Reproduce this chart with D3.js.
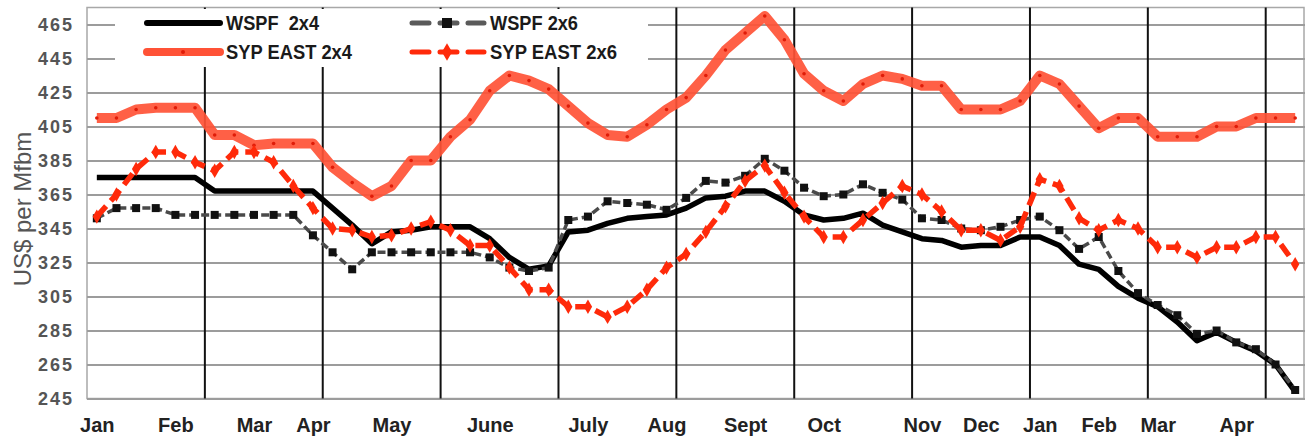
<!DOCTYPE html>
<html>
<head>
<meta charset="utf-8">
<script src="https://cdn.jsdelivr.net/npm/d3@7"></script>
<style>
  body { margin: 0; background: #fff; }
  #dataviz text { font-family: "Liberation Sans", Arial, sans-serif; }
</style>
</head>
<body>
<div id="dataviz"></div>
<script>
"use strict"

// weekly prices, US$ per Mfbm, Jan .. Apr of the following year
const monthLabels = ["Jan", "Feb", "Mar", "Apr", "May", "June", "July", "Aug", "Sept", "Oct", "Nov", "Dec", "Jan", "Feb", "Mar", "Apr"];
const monthWeeks = [0, 4, 8, 11, 15, 20, 25, 29, 33, 37, 42, 45, 48, 51, 54, 58];
const yTicks = [245, 265, 285, 305, 325, 345, 365, 385, 405, 425, 445, 465];

const wspf2x4 = [375, 375, 375, 375, 375, 375, 367, 367, 367, 367, 367, 367,
  357, 347, 336, 343, 344, 346, 346, 346, 339, 328, 321, 323, 343, 344, 348, 351, 352, 353,
  357, 363, 364, 367, 367, 361, 353, 350, 351, 354, 347, 343, 339, 338, 334, 335, 335, 340, 340, 335,
  324, 321, 311, 304, 299, 290, 279, 284, 278, 273, 265, 249];

const wspf2x6 = [351, 357, 357, 357, 353, 353, 353, 353, 353, 353, 353, 341,
  331, 321, 331, 331, 331, 331, 331, 331, 328, 322, 320, 322, 350, 352, 361, 360, 359, 356,
  363, 373, 372, 376, 386, 379, 369, 364, 365, 371, 366, 362, 351, 350, 345, 344, 346, 350, 352, 344,
  333, 340, 320, 307, 300, 294, 283, 285, 278, 274, 265, 250];

const sypEast2x4 = [410, 410, 415, 416, 416, 416, 400, 400, 394, 395, 395, 395,
  381, 372, 364, 370, 385, 385, 399, 409, 426, 435, 432, 427, 417, 407, 400, 399, 406, 415,
  422, 435, 450, 460, 470, 456, 436, 426, 420, 430, 435, 433, 429, 429, 415, 415, 415, 420, 435, 430,
  417, 404, 410, 410, 399, 399, 399, 405, 405, 410, 410, 410];

const sypEast2x6 = [352, 365, 380, 390, 390, 384, 379, 390, 390, 384, 370, 357,
  345, 344, 340, 341, 345, 349, 344, 335, 335, 322, 309, 309, 299, 299, 293, 299, 309, 322,
  330, 343, 358, 373, 382, 366, 352, 340, 340, 350, 360, 370, 365, 355, 344, 344, 338, 346, 374, 370,
  351, 344, 350, 345, 334, 334, 328, 334, 334, 340, 340, 324];

const seriesNames = ["WSPF  2x4", "WSPF 2x6", "SYP EAST 2x4", "SYP EAST 2x6"];

let margin = {top: 7.5, right: 0, bottom: 40.5, left: 87};
let width = 1305 - margin.left - margin.right,
    height = 439 - margin.top - margin.bottom;

let root = d3.select("#dataviz")
  .append("svg")
  .attr("width", 1305)
  .attr("height", 439);

let svg = root.append("g")
  .attr("transform", "translate(" + margin.left + "," + margin.top + ")");

let weeks = wspf2x4.map(function(d, i) { return i; });

let x = d3.scalePoint()
  .domain(weeks)
  .range([0, width])
  .padding(0.5);

let y = d3.scaleLinear()
  .domain([245, 475])
  .range([height, 0]);

// plot frame
svg.append("rect")
  .attr("x", 0).attr("y", 0)
  .attr("width", width - 1).attr("height", height)
  .style("fill", "none")
  .style("stroke", "#a8a8a8")
  .style("stroke-width", 1.5);

// horizontal grid
svg.append("g")
  .call(d3.axisLeft(y).tickValues(yTicks).tickSize(-width).tickFormat(""))
  .call(function(g) { g.select(".domain").remove(); })
  .selectAll("line")
  .style("stroke", "#9c9c9c")
  .style("stroke-width", 2);

// black separators every 6 weeks
let sepWeeks = weeks.filter(function(d) { return d > 0 && d % 6 == 0; });
svg.append("g")
  .selectAll("line")
  .data(sepWeeks)
  .enter()
  .append("line")
  .attr("x1", function(d) { return x(d) - x.step() / 2; })
  .attr("x2", function(d) { return x(d) - x.step() / 2; })
  .attr("y1", 0)
  .attr("y2", height)
  .style("stroke", "#111")
  .style("stroke-width", 2);

// legend background hides the grid behind it
svg.append("rect")
  .attr("x", 28).attr("y", 1.5)
  .attr("width", 533).attr("height", 58)
  .style("fill", "#fff");

// y labels
svg.append("g")
  .call(d3.axisLeft(y).tickValues(yTicks).tickSize(0).tickPadding(13))
  .call(function(g) { g.select(".domain").remove(); })
  .selectAll("text")
  .style("font-size", "18px")
  .style("font-weight", "bold")
  .style("letter-spacing", "2px")
  .style("fill", "#555");

// month labels
svg.append("g")
  .attr("transform", "translate(0," + height + ")")
  .call(d3.axisBottom(x).tickValues(monthWeeks).tickSize(0).tickPadding(19)
    .tickFormat(function(d) { return monthLabels[monthWeeks.indexOf(d)]; }))
  .call(function(g) { g.select(".domain").remove(); })
  .selectAll("text")
  .style("font-size", "20px")
  .style("font-weight", "bold")
  .style("fill", "#222");

root.append("text")
  .attr("transform", "translate(22,209) rotate(-90)")
  .attr("text-anchor", "middle")
  .attr("dominant-baseline", "central")
  .style("font-size", "24px")
  .style("fill", "#555")
  .text("US$ per Mfbm");

let line = d3.line()
  .x(function(d, i) { return x(i); })
  .y(function(d) { return y(d); });

// WSPF 2x4
svg.append("path")
  .datum(wspf2x4)
  .attr("d", line)
  .style("fill", "none")
  .style("stroke", "#000")
  .style("stroke-width", 5.5)
  .style("stroke-linejoin", "round");

// WSPF 2x6
svg.append("path")
  .datum(wspf2x6)
  .attr("d", line)
  .style("fill", "none")
  .style("stroke", "#4a4a4a")
  .style("stroke-width", 3.5)
  .style("stroke-dasharray", "8,4");
svg.append("g")
  .selectAll("rect")
  .data(wspf2x6)
  .enter()
  .append("rect")
  .attr("x", function(d, i) { return x(i) - 4; })
  .attr("y", function(d) { return y(d) - 4; })
  .attr("width", 8)
  .attr("height", 8)
  .style("fill", "#111");

// SYP EAST 2x4
svg.append("path")
  .datum(sypEast2x4)
  .attr("d", line)
  .style("fill", "none")
  .style("stroke", "#ff5236")
  .style("stroke-width", 10)
  .style("stroke-linejoin", "round")
  .style("opacity", 0.92);
svg.append("g")
  .selectAll("circle")
  .data(sypEast2x4)
  .enter()
  .append("circle")
  .attr("cx", function(d, i) { return x(i); })
  .attr("cy", function(d) { return y(d); })
  .attr("r", 1.8)
  .style("fill", "#e01c08");

// SYP EAST 2x6
svg.append("path")
  .datum(sypEast2x6)
  .attr("d", line)
  .style("fill", "none")
  .style("stroke", "#ff2a0a")
  .style("stroke-width", 5.5)
  .style("stroke-dasharray", "14,7");
let diamond = d3.symbol().type(d3.symbolDiamond).size(60);
svg.append("g")
  .selectAll("path")
  .data(sypEast2x6)
  .enter()
  .append("path")
  .attr("d", diamond)
  .attr("transform", function(d, i) { return "translate(" + x(i) + "," + y(d) + ")"; })
  .style("fill", "#ff2a0a");

// legend
let legend = root.append("g");
let legendRows = [
  {name: seriesNames[0], ly: 23, tx: 226, tw: 93},
  {name: seriesNames[1], ly: 23, tx: 490, tw: 88},
  {name: seriesNames[2], ly: 52, tx: 226, tw: 126},
  {name: seriesNames[3], ly: 52, tx: 490, tw: 127}
];

legend.append("line")
  .attr("x1", 147).attr("x2", 220).attr("y1", 23).attr("y2", 23)
  .style("stroke", "#000").style("stroke-width", 6).style("stroke-linecap", "round");

legend.append("line")
  .attr("x1", 412).attr("x2", 484).attr("y1", 23).attr("y2", 23)
  .style("stroke", "#5a5a5a").style("stroke-width", 5)
  .style("stroke-dasharray", "17,11").style("stroke-linecap", "round");
legend.append("rect")
  .attr("x", 442).attr("y", 18).attr("width", 10).attr("height", 10)
  .style("fill", "#111");

legend.append("line")
  .attr("x1", 147).attr("x2", 220).attr("y1", 52).attr("y2", 52)
  .style("stroke", "#ff5236").style("stroke-width", 8).style("stroke-linecap", "round");
legend.append("circle")
  .attr("cx", 183).attr("cy", 52).attr("r", 2)
  .style("fill", "#e01c08");

legend.append("line")
  .attr("x1", 412).attr("x2", 484).attr("y1", 52).attr("y2", 52)
  .style("stroke", "#ff2a0a").style("stroke-width", 5)
  .style("stroke-dasharray", "17,11").style("stroke-linecap", "round");
legend.append("path")
  .attr("d", d3.symbol().type(d3.symbolDiamond).size(90))
  .attr("transform", "translate(447,52)")
  .style("fill", "#ff2a0a");

legend.selectAll("text")
  .data(legendRows)
  .enter()
  .append("text")
  .attr("x", function(d) { return d.tx; })
  .attr("y", function(d) { return d.ly; })
  .attr("dy", "0.36em")
  .attr("textLength", function(d) { return d.tw; })
  .attr("lengthAdjust", "spacingAndGlyphs")
  .style("font-size", "20px")
  .style("font-weight", "bold")
  .style("fill", "#1a1a1a")
  .style("white-space", "pre")
  .text(function(d) { return d.name; });
</script>
</body>
</html>
